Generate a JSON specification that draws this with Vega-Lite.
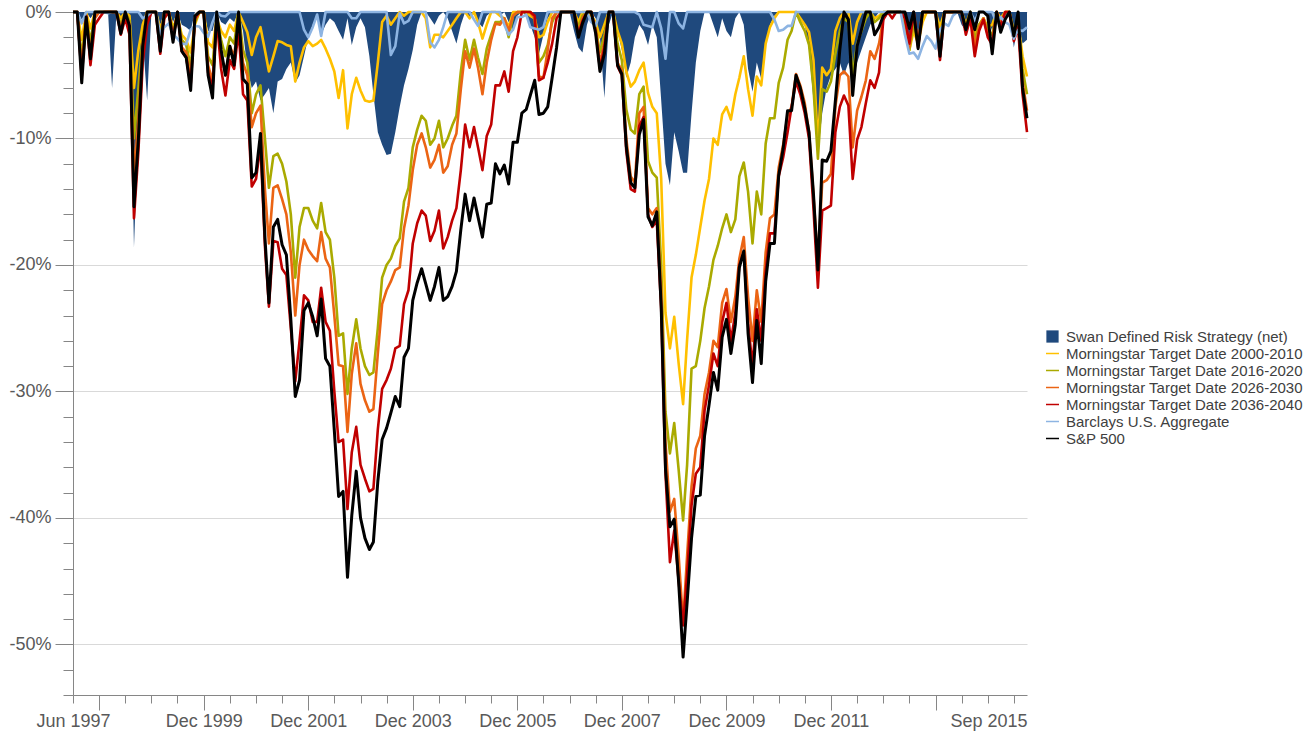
{
  "$schema": "https://vega.github.io/schema/vega-lite/v6.json",
  "width": 954,
  "height": 683,
  "autosize": {"type": "none"},
  "padding": {"left": 73, "top": 12, "right": 285, "bottom": 37},
  "background": "white",
  "config": {"view": {"stroke": null}, "font": "Liberation Sans", "axisY": {"labelOverlap": false}},
  "data": {
    "format": {"parse": {"d": "utc:'%Y-%m-%d'"}},
    "values": [
      {"d":"1997-06-01","sw":0,"g":0,"o":0,"or":0,"r":0,"ag":0,"sp":0},
      {"d":"1997-07-01","sw":0,"g":0,"o":0,"or":0,"r":0,"ag":0,"sp":0},
      {"d":"1997-08-01","sw":-0.6,"g":-2.2,"o":-3.6,"or":-4.8,"r":-5.2,"ag":-0.9,"sp":-5.6},
      {"d":"1997-09-01","sw":0,"g":0,"o":-0.2,"or":-0.3,"r":-0.3,"ag":0,"sp":-0.4},
      {"d":"1997-10-01","sw":-0.5,"g":-1.3,"o":-2.4,"or":-3.2,"r":-4.2,"ag":0,"sp":-3.7},
      {"d":"1997-11-01","sw":0,"g":0,"o":0,"or":-0.5,"r":-1.0,"ag":0,"sp":0},
      {"d":"1997-12-01","sw":0,"g":0,"o":0,"or":0,"r":-0.5,"ag":0,"sp":0},
      {"d":"1998-01-01","sw":0,"g":0,"o":0,"or":0,"r":0,"ag":0,"sp":0},
      {"d":"1998-02-01","sw":0,"g":0,"o":0,"or":0,"r":0,"ag":-0.1,"sp":0},
      {"d":"1998-03-01","sw":-6.0,"g":0,"o":0,"or":0,"r":0,"ag":0,"sp":0},
      {"d":"1998-04-01","sw":0,"g":0,"o":0,"or":0,"r":0,"ag":0,"sp":0},
      {"d":"1998-05-01","sw":-0.5,"g":-0.5,"o":-1.0,"or":-1.3,"r":-1.8,"ag":0,"sp":-1.7},
      {"d":"1998-06-01","sw":0,"g":0,"o":0,"or":0,"r":-0.5,"ag":0,"sp":0},
      {"d":"1998-07-01","sw":-1.0,"g":-0.3,"o":-0.7,"or":-1.0,"r":-1.8,"ag":0,"sp":-1.1},
      {"d":"1998-08-01","sw":-18.6,"g":-6.0,"o":-10.0,"or":-13.0,"r":-16.3,"ag":0,"sp":-15.4},
      {"d":"1998-09-01","sw":-9.0,"g":-3.0,"o":-6.0,"or":-8.5,"r":-11.0,"ag":0,"sp":-10.0},
      {"d":"1998-10-01","sw":-2.0,"g":-1.0,"o":-2.0,"or":-2.5,"r":-4.0,"ag":-0.5,"sp":-2.7},
      {"d":"1998-11-01","sw":-7.0,"g":0,"o":0,"or":0,"r":-1.0,"ag":-0.3,"sp":0},
      {"d":"1998-12-01","sw":0,"g":0,"o":0,"or":0,"r":0,"ag":0,"sp":0},
      {"d":"1999-01-01","sw":0,"g":0,"o":0,"or":0,"r":0,"ag":0,"sp":0},
      {"d":"1999-02-01","sw":-1.0,"g":-1.3,"o":-2.0,"or":-2.6,"r":-3.3,"ag":-1.75,"sp":-3.1},
      {"d":"1999-03-01","sw":0,"g":-0.5,"o":0,"or":0,"r":-0.5,"ag":-1.2,"sp":0},
      {"d":"1999-04-01","sw":0,"g":0,"o":0,"or":0,"r":0,"ag":-0.9,"sp":0},
      {"d":"1999-05-01","sw":-0.8,"g":-1.2,"o":-1.6,"or":-2.0,"r":-2.2,"ag":-1.8,"sp":-2.4},
      {"d":"1999-06-01","sw":0,"g":-0.5,"o":0,"or":0,"r":0,"ag":-2.1,"sp":0},
      {"d":"1999-07-01","sw":-1.0,"g":-1.8,"o":-2.2,"or":-2.8,"r":-3.1,"ag":-2.5,"sp":-3.1},
      {"d":"1999-08-01","sw":-1.2,"g":-2.2,"o":-2.6,"or":-3.2,"r":-3.6,"ag":-2.55,"sp":-3.6},
      {"d":"1999-09-01","sw":-1.5,"g":-3.2,"o":-4.3,"or":-5.3,"r":-5.8,"ag":-1.4,"sp":-6.2},
      {"d":"1999-10-01","sw":0,"g":-1.0,"o":-0.8,"or":-0.6,"r":-0.5,"ag":-1.1,"sp":-0.3},
      {"d":"1999-11-01","sw":0,"g":0,"o":0,"or":0,"r":0,"ag":-1.15,"sp":0},
      {"d":"1999-12-01","sw":0,"g":0,"o":0,"or":0,"r":0,"ag":-1.65,"sp":0},
      {"d":"2000-01-01","sw":-1.5,"g":-2.4,"o":-3.5,"or":-4.2,"r":-4.8,"ag":-1.95,"sp":-5.0},
      {"d":"2000-02-01","sw":-1.5,"g":-2.8,"o":-4.2,"or":-5.5,"r":-6.0,"ag":-0.8,"sp":-6.8},
      {"d":"2000-03-01","sw":0,"g":-0.5,"o":-0.5,"or":-0.5,"r":-0.5,"ag":0,"sp":0},
      {"d":"2000-04-01","sw":-0.8,"g":-1.5,"o":-2.2,"or":-3.2,"r":-4.5,"ag":-0.3,"sp":-3.0},
      {"d":"2000-05-01","sw":-1.0,"g":-2.0,"o":-3.5,"or":-5.0,"r":-6.6,"ag":-0.35,"sp":-5.0},
      {"d":"2000-06-01","sw":-0.5,"g":-1.0,"o":-2.0,"or":-2.7,"r":-3.8,"ag":0,"sp":-2.7},
      {"d":"2000-07-01","sw":-0.8,"g":-1.5,"o":-2.5,"or":-3.5,"r":-4.5,"ag":0,"sp":-4.2},
      {"d":"2000-08-01","sw":0,"g":0,"o":0,"or":-0.5,"r":-1.5,"ag":0,"sp":0},
      {"d":"2000-09-01","sw":-1.5,"g":-0.8,"o":-3.0,"or":-4.0,"r":-6.5,"ag":0,"sp":-5.3},
      {"d":"2000-10-01","sw":-4.5,"g":-1.6,"o":-4.0,"or":-5.0,"r":-7.0,"ag":0,"sp":-5.7},
      {"d":"2000-11-01","sw":-6.0,"g":-3.4,"o":-8.0,"or":-9.1,"r":-13.8,"ag":0,"sp":-13.1},
      {"d":"2000-12-01","sw":-5.5,"g":-2.0,"o":-6.5,"or":-8.0,"r":-13.2,"ag":0,"sp":-12.7},
      {"d":"2001-01-01","sw":-7.0,"g":-1.2,"o":-5.8,"or":-7.4,"r":-10.5,"ag":0,"sp":-9.6},
      {"d":"2001-02-01","sw":-6.5,"g":-3.0,"o":-10.0,"or":-14.0,"r":-18.5,"ag":0,"sp":-17.8},
      {"d":"2001-03-01","sw":-6.0,"g":-4.7,"o":-13.9,"or":-18.3,"r":-23.3,"ag":0,"sp":-23.0},
      {"d":"2001-04-01","sw":-8.0,"g":-3.5,"o":-11.4,"or":-13.9,"r":-18.1,"ag":0,"sp":-17.0},
      {"d":"2001-05-01","sw":-5.5,"g":-2.3,"o":-11.2,"or":-13.7,"r":-18.2,"ag":0,"sp":-16.4},
      {"d":"2001-06-01","sw":-5.3,"g":-2.4,"o":-12.0,"or":-14.8,"r":-20.3,"ag":0,"sp":-18.4},
      {"d":"2001-07-01","sw":-4.5,"g":-2.6,"o":-13.4,"or":-16.0,"r":-20.8,"ag":0,"sp":-19.2},
      {"d":"2001-08-01","sw":-4.0,"g":-2.7,"o":-16.0,"or":-19.0,"r":-25.0,"ag":0,"sp":-24.3},
      {"d":"2001-09-01","sw":-5.6,"g":-5.5,"o":-21.0,"or":-24.0,"r":-29.2,"ag":0,"sp":-30.4},
      {"d":"2001-10-01","sw":-5.0,"g":-4.0,"o":-17.0,"or":-20.0,"r":-26.0,"ag":0,"sp":-29.1},
      {"d":"2001-11-01","sw":-3.5,"g":-2.8,"o":-15.5,"or":-18.0,"r":-22.4,"ag":-1.4,"sp":-23.6},
      {"d":"2001-12-01","sw":-2.0,"g":-2.3,"o":-15.5,"or":-18.8,"r":-22.8,"ag":-2.0,"sp":-23.0},
      {"d":"2002-01-01","sw":-1.0,"g":-2.7,"o":-16.5,"or":-19.3,"r":-24.5,"ag":-1.2,"sp":-24.1},
      {"d":"2002-02-01","sw":-0.5,"g":-2.5,"o":-17.1,"or":-19.7,"r":-24.5,"ag":-0.2,"sp":-25.6},
      {"d":"2002-03-01","sw":-1.8,"g":-2.2,"o":-15.1,"or":-17.4,"r":-21.8,"ag":-1.9,"sp":-22.7},
      {"d":"2002-04-01","sw":-1.0,"g":-2.9,"o":-17.4,"or":-19.5,"r":-24.5,"ag":0,"sp":-27.4},
      {"d":"2002-05-01","sw":-0.5,"g":-3.7,"o":-18.0,"or":-20.2,"r":-25.2,"ag":0,"sp":-28.0},
      {"d":"2002-06-01","sw":-0.8,"g":-4.7,"o":-21.0,"or":-24.0,"r":-30.0,"ag":0,"sp":-33.1},
      {"d":"2002-07-01","sw":-1.5,"g":-6.8,"o":-25.6,"or":-27.9,"r":-34.0,"ag":0,"sp":-38.3},
      {"d":"2002-08-01","sw":-2.2,"g":-4.6,"o":-25.4,"or":-28.0,"r":-33.8,"ag":0,"sp":-37.9},
      {"d":"2002-09-01","sw":-0.5,"g":-9.2,"o":-30.2,"or":-33.2,"r":-39.3,"ag":0,"sp":-44.7},
      {"d":"2002-10-01","sw":-2.6,"g":-6.5,"o":-26.6,"or":-28.6,"r":-34.8,"ag":-0.5,"sp":-39.8},
      {"d":"2002-11-01","sw":-1.2,"g":-5.2,"o":-24.3,"or":-26.2,"r":-32.8,"ag":-0.5,"sp":-36.3},
      {"d":"2002-12-01","sw":-0.5,"g":-6.2,"o":-26.6,"or":-29.4,"r":-35.8,"ag":0,"sp":-40.0},
      {"d":"2003-01-01","sw":-1.2,"g":-7.0,"o":-28.0,"or":-30.7,"r":-36.9,"ag":0,"sp":-41.6},
      {"d":"2003-02-01","sw":-3.5,"g":-7.1,"o":-28.7,"or":-31.6,"r":-37.9,"ag":0,"sp":-42.5},
      {"d":"2003-03-01","sw":-6.5,"g":-7.0,"o":-28.5,"or":-31.4,"r":-37.7,"ag":0,"sp":-41.9},
      {"d":"2003-04-01","sw":-9.5,"g":-4.0,"o":-25.0,"or":-27.0,"r":-33.0,"ag":0,"sp":-37.1},
      {"d":"2003-05-01","sw":-10.5,"g":-0.8,"o":-21.0,"or":-23.1,"r":-29.8,"ag":0,"sp":-33.8},
      {"d":"2003-06-01","sw":-11.3,"g":-0.3,"o":-20.0,"or":-22.0,"r":-29.1,"ag":0,"sp":-32.9},
      {"d":"2003-07-01","sw":-11.2,"g":-1.0,"o":-19.5,"or":-21.3,"r":-28.2,"ag":-3.4,"sp":-31.7},
      {"d":"2003-08-01","sw":-9.5,"g":-0.5,"o":-18.5,"or":-20.4,"r":-26.6,"ag":-2.7,"sp":-30.4},
      {"d":"2003-09-01","sw":-7.5,"g":0,"o":-17.9,"or":-20.2,"r":-26.4,"ag":-0.1,"sp":-31.2},
      {"d":"2003-10-01","sw":-5.8,"g":-0.3,"o":-15.0,"or":-17.1,"r":-23.1,"ag":-0.9,"sp":-27.3},
      {"d":"2003-11-01","sw":-4.5,"g":0,"o":-13.9,"or":-15.3,"r":-22.0,"ag":-0.7,"sp":-26.6},
      {"d":"2003-12-01","sw":-3.0,"g":0,"o":-10.7,"or":-12.5,"r":-18.3,"ag":0,"sp":-22.8},
      {"d":"2004-01-01","sw":-1.0,"g":0,"o":-9.3,"or":-10.5,"r":-16.7,"ag":0,"sp":-21.4},
      {"d":"2004-02-01","sw":0,"g":0,"o":-8.2,"or":-9.6,"r":-15.7,"ag":0,"sp":-20.3},
      {"d":"2004-03-01","sw":0,"g":-0.5,"o":-8.6,"or":-10.7,"r":-16.1,"ag":0,"sp":-21.5},
      {"d":"2004-04-01","sw":-0.5,"g":-2.8,"o":-10.5,"or":-12.3,"r":-18.1,"ag":-2.4,"sp":-22.8},
      {"d":"2004-05-01","sw":-1.0,"g":-1.8,"o":-10.0,"or":-11.7,"r":-17.3,"ag":-2.8,"sp":-21.7},
      {"d":"2004-06-01","sw":-0.3,"g":-1.8,"o":-8.6,"or":-10.5,"r":-15.7,"ag":-2.2,"sp":-20.2},
      {"d":"2004-07-01","sw":0,"g":-2.0,"o":-10.7,"or":-12.7,"r":-18.7,"ag":-1.2,"sp":-22.8},
      {"d":"2004-08-01","sw":-0.5,"g":-1.5,"o":-10.0,"or":-12.2,"r":-17.8,"ag":0,"sp":-22.5},
      {"d":"2004-09-01","sw":-1.5,"g":-1.0,"o":-9.0,"or":-10.5,"r":-16.5,"ag":0,"sp":-21.7},
      {"d":"2004-10-01","sw":-2.5,"g":-0.5,"o":-8.2,"or":-9.6,"r":-15.5,"ag":0,"sp":-20.5},
      {"d":"2004-11-01","sw":-1.0,"g":0,"o":-4.7,"or":-6.1,"r":-12.5,"ag":0,"sp":-17.2},
      {"d":"2004-12-01","sw":0,"g":0,"o":-2.2,"or":-3.1,"r":-8.9,"ag":0,"sp":-14.4},
      {"d":"2005-01-01","sw":-0.5,"g":-0.5,"o":-3.8,"or":-4.4,"r":-10.7,"ag":0,"sp":-16.5},
      {"d":"2005-02-01","sw":0,"g":0,"o":-2.2,"or":-2.9,"r":-9.1,"ag":-0.6,"sp":-14.7},
      {"d":"2005-03-01","sw":-0.8,"g":-0.8,"o":-3.6,"or":-4.4,"r":-10.7,"ag":-1.1,"sp":-16.2},
      {"d":"2005-04-01","sw":-1.2,"g":-2.1,"o":-4.9,"or":-6.5,"r":-12.5,"ag":0,"sp":-17.8},
      {"d":"2005-05-01","sw":-0.3,"g":-1.0,"o":-2.9,"or":-4.0,"r":-9.8,"ag":0,"sp":-15.2},
      {"d":"2005-06-01","sw":0,"g":0,"o":-1.8,"or":-2.2,"r":-8.9,"ag":0,"sp":-15.1},
      {"d":"2005-07-01","sw":0,"g":0,"o":-0.8,"or":-0.9,"r":-5.8,"ag":0,"sp":-12.0},
      {"d":"2005-08-01","sw":-0.3,"g":-0.3,"o":-0.8,"or":-1.0,"r":-5.8,"ag":0,"sp":-12.8},
      {"d":"2005-09-01","sw":0,"g":-0.5,"o":-0.5,"or":-0.5,"r":-4.7,"ag":-1.0,"sp":-12.1},
      {"d":"2005-10-01","sw":-0.8,"g":-1.2,"o":-2.0,"or":-1.5,"r":-6.3,"ag":-1.8,"sp":-13.6},
      {"d":"2005-11-01","sw":-1.5,"g":0,"o":-0.3,"or":-0.3,"r":-3.1,"ag":-1.4,"sp":-10.3},
      {"d":"2005-12-01","sw":-0.3,"g":0,"o":0,"or":0,"r":-2.0,"ag":-0.4,"sp":-10.3},
      {"d":"2006-01-01","sw":0,"g":0,"o":0,"or":0,"r":0,"ag":-0.4,"sp":-8.0},
      {"d":"2006-02-01","sw":-0.3,"g":0,"o":0,"or":0,"r":0,"ag":-0.2,"sp":-7.7},
      {"d":"2006-03-01","sw":-1.0,"g":-0.3,"o":0,"or":0,"r":0,"ag":-1.2,"sp":-6.6},
      {"d":"2006-04-01","sw":-2.0,"g":-0.5,"o":-0.5,"or":-0.5,"r":-0.3,"ag":-1.3,"sp":-5.4},
      {"d":"2006-05-01","sw":-3.3,"g":-2.0,"o":-4.0,"or":-5.1,"r":-5.4,"ag":-1.4,"sp":-8.1},
      {"d":"2006-06-01","sw":-1.8,"g":-1.8,"o":-3.5,"or":-5.2,"r":-5.2,"ag":-1.2,"sp":-8.0},
      {"d":"2006-07-01","sw":-0.5,"g":-0.8,"o":-2.6,"or":-3.0,"r":-4.0,"ag":0,"sp":-7.5},
      {"d":"2006-08-01","sw":0,"g":0,"o":-0.8,"or":-0.5,"r":-2.5,"ag":0,"sp":-5.2},
      {"d":"2006-09-01","sw":0,"g":0,"o":0,"or":0,"r":-0.5,"ag":0,"sp":-2.8},
      {"d":"2006-10-01","sw":0,"g":0,"o":0,"or":0,"r":0,"ag":0,"sp":0},
      {"d":"2006-11-01","sw":0,"g":0,"o":0,"or":0,"r":0,"ag":0,"sp":0},
      {"d":"2006-12-01","sw":0,"g":0,"o":0,"or":0,"r":0,"ag":0,"sp":0},
      {"d":"2007-01-01","sw":-1.5,"g":0,"o":0,"or":0,"r":0,"ag":0,"sp":0},
      {"d":"2007-02-01","sw":-2.8,"g":-0.8,"o":-1.2,"or":-1.6,"r":-1.8,"ag":0,"sp":-2.0},
      {"d":"2007-03-01","sw":-3.2,"g":0,"o":-0.3,"or":-0.5,"r":-0.7,"ag":0,"sp":-0.9},
      {"d":"2007-04-01","sw":-1.0,"g":0,"o":0,"or":0,"r":0,"ag":0,"sp":0},
      {"d":"2007-05-01","sw":0,"g":-0.3,"o":0,"or":0,"r":0,"ag":-0.8,"sp":0},
      {"d":"2007-06-01","sw":-0.5,"g":-0.8,"o":-1.2,"or":-1.4,"r":-1.5,"ag":-1.1,"sp":-1.7},
      {"d":"2007-07-01","sw":-2.0,"g":-2.0,"o":-3.2,"or":-4.0,"r":-4.5,"ag":0,"sp":-4.7},
      {"d":"2007-08-01","sw":-6.8,"g":-1.0,"o":-1.8,"or":-2.5,"r":-2.8,"ag":0,"sp":-3.3},
      {"d":"2007-09-01","sw":-1.0,"g":0,"o":0,"or":0,"r":0,"ag":0,"sp":0},
      {"d":"2007-10-01","sw":0,"g":0,"o":0,"or":0,"r":0,"ag":0,"sp":0},
      {"d":"2007-11-01","sw":-1.5,"g":-1.5,"o":-2.5,"or":-4.0,"r":-4.3,"ag":0,"sp":-4.2},
      {"d":"2007-12-01","sw":-3.0,"g":-2.5,"o":-3.8,"or":-4.6,"r":-5.0,"ag":0,"sp":-4.9},
      {"d":"2008-01-01","sw":-5.2,"g":-4.7,"o":-7.7,"or":-10.0,"r":-11.0,"ag":0,"sp":-10.6},
      {"d":"2008-02-01","sw":-4.0,"g":-5.9,"o":-9.3,"or":-13.0,"r":-14.0,"ag":0,"sp":-13.5},
      {"d":"2008-03-01","sw":-2.0,"g":-5.5,"o":-9.6,"or":-13.5,"r":-14.2,"ag":0,"sp":-13.9},
      {"d":"2008-04-01","sw":-1.0,"g":-4.6,"o":-6.5,"or":-8.0,"r":-9.0,"ag":-0.2,"sp":-9.7},
      {"d":"2008-05-01","sw":-1.5,"g":-4.0,"o":-5.9,"or":-7.5,"r":-8.3,"ag":-1.0,"sp":-8.5},
      {"d":"2008-06-01","sw":-2.6,"g":-6.4,"o":-11.8,"or":-15.5,"r":-16.0,"ag":-1.1,"sp":-16.2},
      {"d":"2008-07-01","sw":-1.0,"g":-7.5,"o":-12.7,"or":-16.0,"r":-17.0,"ag":-1.2,"sp":-16.9},
      {"d":"2008-08-01","sw":-2.0,"g":-8.0,"o":-13.1,"or":-15.5,"r":-16.5,"ag":0,"sp":-15.8},
      {"d":"2008-09-01","sw":-7.0,"g":-13.2,"o":-20.0,"or":-22.0,"r":-23.5,"ag":-1.3,"sp":-23.3},
      {"d":"2008-10-01","sw":-12.0,"g":-23.8,"o":-31.6,"or":-34.0,"r":-36.5,"ag":-3.7,"sp":-36.1},
      {"d":"2008-11-01","sw":-13.7,"g":-26.6,"o":-34.9,"or":-39.5,"r":-43.5,"ag":0,"sp":-40.7},
      {"d":"2008-12-01","sw":-9.5,"g":-24.1,"o":-32.5,"or":-38.5,"r":-41.0,"ag":0,"sp":-40.1},
      {"d":"2009-01-01","sw":-11.0,"g":-27.8,"o":-36.2,"or":-43.0,"r":-45.0,"ag":-0.9,"sp":-45.1},
      {"d":"2009-02-01","sw":-12.7,"g":-31.0,"o":-40.2,"or":-48.3,"r":-48.5,"ag":-1.3,"sp":-51.0},
      {"d":"2009-03-01","sw":-12.7,"g":-25.9,"o":-35.8,"or":-43.0,"r":-44.5,"ag":0,"sp":-46.7},
      {"d":"2009-04-01","sw":-8.0,"g":-21.0,"o":-28.2,"or":-37.5,"r":-39.0,"ag":0,"sp":-41.6},
      {"d":"2009-05-01","sw":-4.0,"g":-19.2,"o":-28.0,"or":-34.5,"r":-36.5,"ag":0,"sp":-38.3},
      {"d":"2009-06-01","sw":-1.5,"g":-17.0,"o":-26.0,"or":-33.5,"r":-36.0,"ag":0,"sp":-38.2},
      {"d":"2009-07-01","sw":0,"g":-14.9,"o":-23.4,"or":-30.2,"r":-31.5,"ag":0,"sp":-33.5},
      {"d":"2009-08-01","sw":0,"g":-13.2,"o":-21.7,"or":-28.5,"r":-29.5,"ag":0,"sp":-31.1},
      {"d":"2009-09-01","sw":-1.0,"g":-10.0,"o":-19.6,"or":-26.0,"r":-27.0,"ag":0,"sp":-28.5},
      {"d":"2009-10-01","sw":-2.0,"g":-10.5,"o":-18.5,"or":-26.5,"r":-28.0,"ag":0,"sp":-29.9},
      {"d":"2009-11-01","sw":-0.5,"g":-8.1,"o":-17.1,"or":-23.0,"r":-24.5,"ag":0,"sp":-25.7},
      {"d":"2009-12-01","sw":-1.5,"g":-7.5,"o":-16.0,"or":-21.9,"r":-23.0,"ag":0,"sp":-24.3},
      {"d":"2010-01-01","sw":-2.0,"g":-8.5,"o":-17.4,"or":-24.5,"r":-26.0,"ag":0,"sp":-27.0},
      {"d":"2010-02-01","sw":-0.5,"g":-6.5,"o":-16.4,"or":-22.5,"r":-23.8,"ag":0,"sp":-24.7},
      {"d":"2010-03-01","sw":0,"g":-5.2,"o":-13.0,"or":-19.5,"r":-20.0,"ag":0,"sp":-20.2},
      {"d":"2010-04-01","sw":-1.0,"g":-3.5,"o":-11.9,"or":-17.8,"r":-19.0,"ag":0,"sp":-18.9},
      {"d":"2010-05-01","sw":-4.5,"g":-6.1,"o":-14.2,"or":-22.5,"r":-24.6,"ag":0,"sp":-25.4},
      {"d":"2010-06-01","sw":-6.3,"g":-8.2,"o":-18.3,"or":-26.0,"r":-28.0,"ag":0,"sp":-29.3},
      {"d":"2010-07-01","sw":-4.0,"g":-5.1,"o":-14.2,"or":-22.0,"r":-23.5,"ag":0,"sp":-24.4},
      {"d":"2010-08-01","sw":-5.3,"g":-5.8,"o":-16.0,"or":-24.5,"r":-26.0,"ag":0,"sp":-27.8},
      {"d":"2010-09-01","sw":-2.5,"g":-2.5,"o":-10.4,"or":-19.0,"r":-20.5,"ag":0,"sp":-21.3},
      {"d":"2010-10-01","sw":-1.0,"g":-1.2,"o":-8.4,"or":-16.3,"r":-17.5,"ag":0,"sp":-18.3},
      {"d":"2010-11-01","sw":-0.3,"g":-0.5,"o":-8.4,"or":-16.0,"r":-17.5,"ag":-0.6,"sp":-18.3},
      {"d":"2010-12-01","sw":0,"g":0,"o":-5.6,"or":-12.3,"r":-13.0,"ag":-1.5,"sp":-12.9},
      {"d":"2011-01-01","sw":0,"g":0,"o":-4.4,"or":-10.5,"r":-11.5,"ag":-1.4,"sp":-10.8},
      {"d":"2011-02-01","sw":0,"g":0,"o":-2.2,"or":-8.2,"r":-9.5,"ag":-1.1,"sp":-7.8},
      {"d":"2011-03-01","sw":0,"g":0,"o":-1.5,"or":-7.5,"r":-7.5,"ag":-1.1,"sp":-7.8},
      {"d":"2011-04-01","sw":0,"g":0,"o":0,"or":-4.9,"r":-5.5,"ag":0,"sp":-5.0},
      {"d":"2011-05-01","sw":-0.5,"g":-0.5,"o":-0.8,"or":-5.8,"r":-6.5,"ag":0,"sp":-6.0},
      {"d":"2011-06-01","sw":-1.0,"g":-1.0,"o":-1.5,"or":-7.2,"r":-8.0,"ag":0,"sp":-7.6},
      {"d":"2011-07-01","sw":-3.0,"g":-1.6,"o":-2.6,"or":-9.5,"r":-10.0,"ag":0,"sp":-9.5},
      {"d":"2011-08-01","sw":-7.0,"g":-3.8,"o":-6.0,"or":-14.5,"r":-15.5,"ag":0,"sp":-14.4},
      {"d":"2011-09-01","sw":-11.3,"g":-10.5,"o":-11.6,"or":-19.8,"r":-21.8,"ag":0,"sp":-20.4},
      {"d":"2011-10-01","sw":-8.0,"g":-4.4,"o":-6.1,"or":-13.5,"r":-15.7,"ag":0,"sp":-11.7},
      {"d":"2011-11-01","sw":-6.0,"g":-5.0,"o":-6.3,"or":-13.3,"r":-15.5,"ag":0,"sp":-11.8},
      {"d":"2011-12-01","sw":-5.0,"g":-4.5,"o":-5.5,"or":-12.8,"r":-15.3,"ag":0,"sp":-11.0},
      {"d":"2012-01-01","sw":-4.5,"g":-1.5,"o":-3.3,"or":-7.5,"r":-9.5,"ag":0,"sp":-7.0},
      {"d":"2012-02-01","sw":-4.0,"g":-0.5,"o":-1.5,"or":-5.0,"r":-7.5,"ag":0,"sp":-3.0},
      {"d":"2012-03-01","sw":-5.0,"g":0,"o":-0.5,"or":-4.7,"r":-6.6,"ag":0,"sp":0},
      {"d":"2012-04-01","sw":-4.0,"g":0,"o":-0.8,"or":-5.1,"r":-7.4,"ag":0,"sp":-0.6},
      {"d":"2012-05-01","sw":-5.5,"g":-2.5,"o":-5.0,"or":-10.7,"r":-13.2,"ag":0,"sp":-6.6},
      {"d":"2012-06-01","sw":-4.0,"g":-0.8,"o":-2.5,"or":-7.8,"r":-10.1,"ag":0,"sp":-2.7},
      {"d":"2012-07-01","sw":-3.0,"g":0,"o":-1.5,"or":-6.7,"r":-9.1,"ag":0,"sp":-1.4},
      {"d":"2012-08-01","sw":-2.0,"g":0,"o":-0.5,"or":-5.4,"r":-7.2,"ag":0,"sp":0},
      {"d":"2012-09-01","sw":-1.0,"g":0,"o":0,"or":-3.1,"r":-5.4,"ag":0,"sp":0},
      {"d":"2012-10-01","sw":-0.5,"g":-0.5,"o":-0.8,"or":-3.7,"r":-6.0,"ag":0,"sp":-1.8},
      {"d":"2012-11-01","sw":0,"g":-0.3,"o":-0.5,"or":-2.5,"r":-4.8,"ag":0,"sp":-1.2},
      {"d":"2012-12-01","sw":0,"g":0,"o":0,"or":-0.5,"r":-0.6,"ag":0,"sp":-0.3},
      {"d":"2013-01-01","sw":0,"g":0,"o":0,"or":0,"r":0,"ag":0,"sp":0},
      {"d":"2013-02-01","sw":0,"g":0,"o":0,"or":0,"r":-0.5,"ag":0,"sp":0},
      {"d":"2013-03-01","sw":0,"g":0,"o":0,"or":0,"r":0,"ag":0,"sp":0},
      {"d":"2013-04-01","sw":0,"g":0,"o":0,"or":0,"r":0,"ag":0,"sp":0},
      {"d":"2013-05-01","sw":-0.5,"g":-1.0,"o":-0.8,"or":-0.5,"r":-0.5,"ag":-1.8,"sp":0},
      {"d":"2013-06-01","sw":-2.5,"g":-3.0,"o":-3.0,"or":-2.8,"r":-2.5,"ag":-3.3,"sp":-1.3},
      {"d":"2013-07-01","sw":-1.0,"g":-1.5,"o":-0.8,"or":0,"r":0,"ag":-3.2,"sp":0},
      {"d":"2013-08-01","sw":-2.0,"g":-2.5,"o":-2.5,"or":-2.5,"r":-2.8,"ag":-3.7,"sp":-2.9},
      {"d":"2013-09-01","sw":0,"g":-0.8,"o":0,"or":0,"r":0,"ag":-2.7,"sp":0},
      {"d":"2013-10-01","sw":0,"g":0,"o":0,"or":0,"r":0,"ag":-1.9,"sp":0},
      {"d":"2013-11-01","sw":0,"g":0,"o":0,"or":0,"r":0,"ag":-2.3,"sp":0},
      {"d":"2013-12-01","sw":0,"g":0,"o":0,"or":0,"r":0,"ag":-2.9,"sp":0},
      {"d":"2014-01-01","sw":-1.0,"g":-1.2,"o":-2.2,"or":-3.0,"r":-3.8,"ag":-1.4,"sp":-3.5},
      {"d":"2014-02-01","sw":0,"g":0,"o":0,"or":0,"r":0,"ag":-0.9,"sp":0},
      {"d":"2014-03-01","sw":0,"g":0,"o":0,"or":0,"r":0,"ag":-1.1,"sp":0},
      {"d":"2014-04-01","sw":0,"g":0,"o":0,"or":0,"r":0,"ag":-0.3,"sp":0},
      {"d":"2014-05-01","sw":0,"g":0,"o":0,"or":0,"r":0,"ag":0,"sp":0},
      {"d":"2014-06-01","sw":-1.0,"g":0,"o":0,"or":0,"r":0,"ag":0,"sp":0},
      {"d":"2014-07-01","sw":-1.5,"g":-1.0,"o":-1.2,"or":-1.5,"r":-1.8,"ag":0,"sp":-1.4},
      {"d":"2014-08-01","sw":0,"g":0,"o":0,"or":0,"r":-0.5,"ag":0,"sp":0},
      {"d":"2014-09-01","sw":-1.5,"g":-1.8,"o":-2.2,"or":-2.8,"r":-3.5,"ag":-0.7,"sp":-1.4},
      {"d":"2014-10-01","sw":0,"g":-1.0,"o":-1.0,"or":-1.2,"r":-1.5,"ag":0,"sp":0},
      {"d":"2014-11-01","sw":0,"g":-0.5,"o":-0.5,"or":-0.5,"r":-0.6,"ag":0,"sp":0},
      {"d":"2014-12-01","sw":-0.5,"g":-1.2,"o":-1.5,"or":-1.8,"r":-2.0,"ag":0,"sp":-0.3},
      {"d":"2015-01-01","sw":-1.5,"g":-1.0,"o":-1.8,"or":-2.3,"r":-2.6,"ag":0,"sp":-3.3},
      {"d":"2015-02-01","sw":0,"g":0,"o":0,"or":0,"r":0,"ag":-0.9,"sp":0},
      {"d":"2015-03-01","sw":-0.8,"g":-0.5,"o":-0.8,"or":-1.0,"r":-1.2,"ag":-0.4,"sp":-1.6},
      {"d":"2015-04-01","sw":-0.3,"g":0,"o":0,"or":0,"r":0,"ag":-0.8,"sp":-0.6},
      {"d":"2015-05-01","sw":0,"g":0,"o":0,"or":0,"r":0,"ag":-1.0,"sp":0},
      {"d":"2015-06-01","sw":-2.8,"g":-1.5,"o":-1.8,"or":-2.0,"r":-2.3,"ag":-2.1,"sp":-1.9},
      {"d":"2015-07-01","sw":-1.0,"g":-0.8,"o":-0.8,"or":-1.0,"r":-1.2,"ag":-1.4,"sp":0},
      {"d":"2015-08-01","sw":-2.5,"g":-3.5,"o":-4.5,"or":-5.5,"r":-6.5,"ag":-1.5,"sp":-6.0},
      {"d":"2015-09-01","sw":-2.2,"g":-5.1,"o":-6.5,"or":-7.8,"r":-9.5,"ag":-1.2,"sp":-8.4}
    ]
  },
  "encoding": {
    "x": {
      "field": "d",
      "type": "temporal",
      "scale": {"type": "utc", "domain": [{"year": 1997, "month": 6, "date": 1, "utc": true}, {"year": 2015, "month": 9, "date": 1, "utc": true}]},
      "axis": {
        "title": null,
        "grid": false,
        "values": [
          {"year":1997,"month":6,"date":1,"utc":true},{"year":1997,"month":12,"date":1,"utc":true},
          {"year":1998,"month":6,"date":1,"utc":true},{"year":1998,"month":12,"date":1,"utc":true},
          {"year":1999,"month":6,"date":1,"utc":true},{"year":1999,"month":12,"date":1,"utc":true},
          {"year":2000,"month":6,"date":1,"utc":true},{"year":2000,"month":12,"date":1,"utc":true},
          {"year":2001,"month":6,"date":1,"utc":true},{"year":2001,"month":12,"date":1,"utc":true},
          {"year":2002,"month":6,"date":1,"utc":true},{"year":2002,"month":12,"date":1,"utc":true},
          {"year":2003,"month":6,"date":1,"utc":true},{"year":2003,"month":12,"date":1,"utc":true},
          {"year":2004,"month":6,"date":1,"utc":true},{"year":2004,"month":12,"date":1,"utc":true},
          {"year":2005,"month":6,"date":1,"utc":true},{"year":2005,"month":12,"date":1,"utc":true},
          {"year":2006,"month":6,"date":1,"utc":true},{"year":2006,"month":12,"date":1,"utc":true},
          {"year":2007,"month":6,"date":1,"utc":true},{"year":2007,"month":12,"date":1,"utc":true},
          {"year":2008,"month":6,"date":1,"utc":true},{"year":2008,"month":12,"date":1,"utc":true},
          {"year":2009,"month":6,"date":1,"utc":true},{"year":2009,"month":12,"date":1,"utc":true},
          {"year":2010,"month":6,"date":1,"utc":true},{"year":2010,"month":12,"date":1,"utc":true},
          {"year":2011,"month":6,"date":1,"utc":true},{"year":2011,"month":12,"date":1,"utc":true},
          {"year":2012,"month":6,"date":1,"utc":true},{"year":2012,"month":12,"date":1,"utc":true},
          {"year":2013,"month":6,"date":1,"utc":true},{"year":2013,"month":12,"date":1,"utc":true},
          {"year":2014,"month":6,"date":1,"utc":true},{"year":2014,"month":12,"date":1,"utc":true},
          {"year":2015,"month":6,"date":1,"utc":true},{"year":2015,"month":9,"date":1,"utc":true}
        ],
        "labelExpr": "utcyear(datum.value)==1997 && utcmonth(datum.value)==5 ? 'Jun 1997' : (utcyear(datum.value)==2015 && utcmonth(datum.value)==8 ? 'Sep 2015' : (utcmonth(datum.value)==11 && utcyear(datum.value)%2==1 && utcyear(datum.value)>=1999 && utcyear(datum.value)<=2011 ? 'Dec ' + utcyear(datum.value) : ''))",
        "tickSize": {"condition": [
          {"test": "utcyear(datum.value)==2015 && utcmonth(datum.value)==8", "value": 0},
          {"test": "utcmonth(datum.value)==11 && utcyear(datum.value)%2==1", "value": 15}
        ], "value": 8},
        "labelPadding": {"condition": [
          {"test": "utcyear(datum.value)==2015 && utcmonth(datum.value)==8", "value": 17.5},
          {"test": "utcmonth(datum.value)==11 && utcyear(datum.value)%2==1", "value": 2.5}
        ], "value": 9.5},
        "labelAlign": {"condition": {"test": "utcyear(datum.value)==2015 && utcmonth(datum.value)==8", "value": "right"}, "value": "center"},
        "labelOverlap": false,
        "labelFlush": false,
        "labelBound": false,
        "labelFont": "Liberation Sans",
        "labelFontSize": 18,
        "labelColor": "#595959",
        "tickColor": "#868686",
        "domainColor": "#868686"
      }
    }
  },
  "layer": [
    {
      "mark": {"type": "area", "interpolate": "linear"},
      "encoding": {
        "y": {"field": "sw", "type": "quantitative", "stack": null, "scale": {"domain": [-54, 0], "nice": false, "zero": false},
          "axis": {"title": null, "values": [0,-2,-4,-6,-8,-10,-12,-14,-16,-18,-20,-22,-24,-26,-28,-30,-32,-34,-36,-38,-40,-42,-44,-46,-48,-50,-52,-54],
            "labelExpr": "datum.value % 10 == 0 ? datum.value + '%' : ''",
            "labelOverlap": false, "labelBound": false, "labelFlush": false, "grid": true, "gridColor": "#D9D9D9", "gridWidth": 1,
            "gridOpacity": {"condition": {"test": "datum.value % 10 == 0", "value": 1}, "value": 0},
            "tickSize": {"condition": {"test": "datum.value % 10 == 0", "value": 18}, "value": 10},
            "tickColor": "#868686", "domainColor": "#868686", "labelColor": "#595959", "labelFontSize": 18, "labelFont": "Liberation Sans", "labelPadding": 4}},
        "y2": {"datum": 0},
        "fill": {"datum": "Swan Defined Risk Strategy (net)", "type": "nominal", "scale": {"range": ["#1F497D"]},
          "legend": {"orient": "none", "legendX": 972, "legendY": 317, "title": null, "symbolType": "square", "symbolSize": 150, "symbolStrokeWidth": 0, "labelFontSize": 15, "labelLimit": 400, "labelColor": "#404040", "labelFont": "Liberation Sans", "padding": 0, "labelOffset": 6}}
      }
    },
    {
      "mark": {"type": "line", "strokeWidth": 2.6, "strokeJoin": "round"},
      "encoding": {
        "y": {"field": "g", "type": "quantitative", "scale": {"domain": [-54, 0], "nice": false, "zero": false},
          "axis": {"title": null, "values": [0,-2,-4,-6,-8,-10,-12,-14,-16,-18,-20,-22,-24,-26,-28,-30,-32,-34,-36,-38,-40,-42,-44,-46,-48,-50,-52,-54],
            "labelExpr": "datum.value % 10 == 0 ? datum.value + '%' : ''",
            "labelOverlap": false, "labelBound": false, "labelFlush": false, "grid": true, "gridColor": "#D9D9D9", "gridWidth": 1,
            "gridOpacity": {"condition": {"test": "datum.value % 10 == 0", "value": 1}, "value": 0},
            "tickSize": {"condition": {"test": "datum.value % 10 == 0", "value": 18}, "value": 10},
            "tickColor": "#868686", "domainColor": "#868686", "labelColor": "#595959", "labelFontSize": 18, "labelFont": "Liberation Sans", "labelPadding": 4}},
        "stroke": {"datum": "Morningstar Target Date 2000-2010", "type": "nominal",
          "scale": {"domain": ["Morningstar Target Date 2000-2010", "Morningstar Target Date 2016-2020", "Morningstar Target Date 2026-2030", "Morningstar Target Date 2036-2040", "Barclays U.S. Aggregate", "S&P 500"],
                    "range": ["#FFC000", "#AAAA00", "#EB6414", "#C00000", "#8DB4E2", "#000000"]},
          "legend": {"orient": "none", "legendX": 972, "legendY": 334, "title": null, "symbolType": "stroke", "symbolSize": 169, "symbolStrokeWidth": 1.5, "labelFontSize": 15, "labelLimit": 400, "labelColor": "#404040", "labelFont": "Liberation Sans", "padding": 0, "rowPadding": 1, "labelOffset": 6}}
      }
    },
    {
      "mark": {"type": "line", "strokeWidth": 2.6, "strokeJoin": "round"},
      "encoding": {
        "y": {"field": "o", "type": "quantitative", "scale": {"domain": [-54, 0], "nice": false, "zero": false},
          "axis": {"title": null, "values": [0,-2,-4,-6,-8,-10,-12,-14,-16,-18,-20,-22,-24,-26,-28,-30,-32,-34,-36,-38,-40,-42,-44,-46,-48,-50,-52,-54],
            "labelExpr": "datum.value % 10 == 0 ? datum.value + '%' : ''",
            "labelOverlap": false, "labelBound": false, "labelFlush": false, "grid": true, "gridColor": "#D9D9D9", "gridWidth": 1,
            "gridOpacity": {"condition": {"test": "datum.value % 10 == 0", "value": 1}, "value": 0},
            "tickSize": {"condition": {"test": "datum.value % 10 == 0", "value": 18}, "value": 10},
            "tickColor": "#868686", "domainColor": "#868686", "labelColor": "#595959", "labelFontSize": 18, "labelFont": "Liberation Sans", "labelPadding": 4}},
        "stroke": {"datum": "Morningstar Target Date 2016-2020", "type": "nominal"}
      }
    },
    {
      "mark": {"type": "line", "strokeWidth": 2.6, "strokeJoin": "round"},
      "encoding": {
        "y": {"field": "or", "type": "quantitative", "scale": {"domain": [-54, 0], "nice": false, "zero": false},
          "axis": {"title": null, "values": [0,-2,-4,-6,-8,-10,-12,-14,-16,-18,-20,-22,-24,-26,-28,-30,-32,-34,-36,-38,-40,-42,-44,-46,-48,-50,-52,-54],
            "labelExpr": "datum.value % 10 == 0 ? datum.value + '%' : ''",
            "labelOverlap": false, "labelBound": false, "labelFlush": false, "grid": true, "gridColor": "#D9D9D9", "gridWidth": 1,
            "gridOpacity": {"condition": {"test": "datum.value % 10 == 0", "value": 1}, "value": 0},
            "tickSize": {"condition": {"test": "datum.value % 10 == 0", "value": 18}, "value": 10},
            "tickColor": "#868686", "domainColor": "#868686", "labelColor": "#595959", "labelFontSize": 18, "labelFont": "Liberation Sans", "labelPadding": 4}},
        "stroke": {"datum": "Morningstar Target Date 2026-2030", "type": "nominal"}
      }
    },
    {
      "mark": {"type": "line", "strokeWidth": 2.6, "strokeJoin": "round"},
      "encoding": {
        "y": {"field": "r", "type": "quantitative", "scale": {"domain": [-54, 0], "nice": false, "zero": false},
          "axis": {"title": null, "values": [0,-2,-4,-6,-8,-10,-12,-14,-16,-18,-20,-22,-24,-26,-28,-30,-32,-34,-36,-38,-40,-42,-44,-46,-48,-50,-52,-54],
            "labelExpr": "datum.value % 10 == 0 ? datum.value + '%' : ''",
            "labelOverlap": false, "labelBound": false, "labelFlush": false, "grid": true, "gridColor": "#D9D9D9", "gridWidth": 1,
            "gridOpacity": {"condition": {"test": "datum.value % 10 == 0", "value": 1}, "value": 0},
            "tickSize": {"condition": {"test": "datum.value % 10 == 0", "value": 18}, "value": 10},
            "tickColor": "#868686", "domainColor": "#868686", "labelColor": "#595959", "labelFontSize": 18, "labelFont": "Liberation Sans", "labelPadding": 4}},
        "stroke": {"datum": "Morningstar Target Date 2036-2040", "type": "nominal"}
      }
    },
    {
      "mark": {"type": "line", "strokeWidth": 2.6, "strokeJoin": "round"},
      "encoding": {
        "y": {"field": "ag", "type": "quantitative", "scale": {"domain": [-54, 0], "nice": false, "zero": false},
          "axis": {"title": null, "values": [0,-2,-4,-6,-8,-10,-12,-14,-16,-18,-20,-22,-24,-26,-28,-30,-32,-34,-36,-38,-40,-42,-44,-46,-48,-50,-52,-54],
            "labelExpr": "datum.value % 10 == 0 ? datum.value + '%' : ''",
            "labelOverlap": false, "labelBound": false, "labelFlush": false, "grid": true, "gridColor": "#D9D9D9", "gridWidth": 1,
            "gridOpacity": {"condition": {"test": "datum.value % 10 == 0", "value": 1}, "value": 0},
            "tickSize": {"condition": {"test": "datum.value % 10 == 0", "value": 18}, "value": 10},
            "tickColor": "#868686", "domainColor": "#868686", "labelColor": "#595959", "labelFontSize": 18, "labelFont": "Liberation Sans", "labelPadding": 4}},
        "stroke": {"datum": "Barclays U.S. Aggregate", "type": "nominal"}
      }
    },
    {
      "mark": {"type": "line", "strokeWidth": 3, "strokeJoin": "round"},
      "encoding": {
        "y": {"field": "sp", "type": "quantitative", "scale": {"domain": [-54, 0], "nice": false, "zero": false},
          "axis": {"title": null, "values": [0,-2,-4,-6,-8,-10,-12,-14,-16,-18,-20,-22,-24,-26,-28,-30,-32,-34,-36,-38,-40,-42,-44,-46,-48,-50,-52,-54],
            "labelExpr": "datum.value % 10 == 0 ? datum.value + '%' : ''",
            "labelOverlap": false, "labelBound": false, "labelFlush": false, "grid": true, "gridColor": "#D9D9D9", "gridWidth": 1,
            "gridOpacity": {"condition": {"test": "datum.value % 10 == 0", "value": 1}, "value": 0},
            "tickSize": {"condition": {"test": "datum.value % 10 == 0", "value": 18}, "value": 10},
            "tickColor": "#868686", "domainColor": "#868686", "labelColor": "#595959", "labelFontSize": 18, "labelFont": "Liberation Sans", "labelPadding": 4}},
        "stroke": {"datum": "S&P 500", "type": "nominal"}
      }
    }
  ]
}
